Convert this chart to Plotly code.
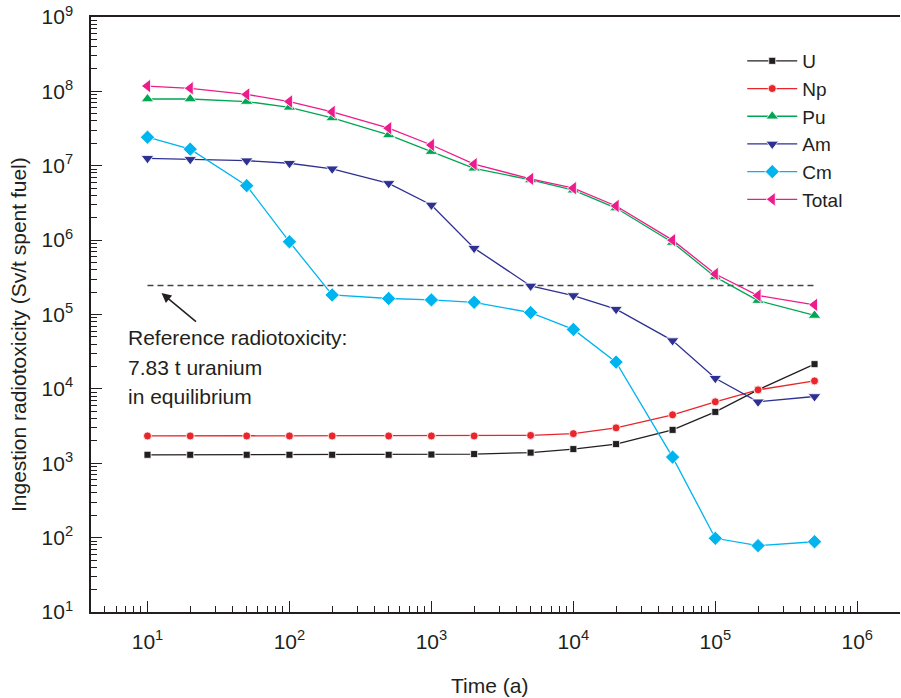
import plotly.graph_objects as go

time_a = [10, 20, 50, 100, 200, 500, 1000, 2000, 5000, 1e4, 2e4, 5e4, 1e5, 2e5, 5e5]

u_vals = [1.3e3, 1.3e3, 1.3e3, 1.3e3, 1.3e3, 1.3e3, 1.31e3, 1.33e3, 1.39e3, 1.55e3, 1.81e3, 2.81e3, 4.9e3, 9.7e3, 2.15e4]
np_vals = [2.33e3, 2.33e3, 2.33e3, 2.33e3, 2.33e3, 2.33e3, 2.33e3, 2.33e3, 2.37e3, 2.5e3, 2.99e3, 4.48e3, 6.7e3, 9.7e3, 1.28e4]
pu_vals = [7.9e7, 7.9e7, 7.3e7, 6.1e7, 4.4e7, 2.6e7, 1.55e7, 9.25e6, 6.45e6, 4.7e6, 2.7e6, 9.3e5, 3.2e5, 1.54e5, 9.7e4]
am_vals = [1.26e7, 1.22e7, 1.17e7, 1.08e7, 9.1e6, 5.8e6, 2.97e6, 7.8e5, 2.42e5, 1.8e5, 1.18e5, 4.46e4, 1.39e4, 6.7e3, 7.9e3]
cm_vals = [2.42e7, 1.67e7, 5.4e6, 9.5e5, 1.83e5, 1.64e5, 1.57e5, 1.46e5, 1.06e5, 6.3e4, 2.29e4, 1.21e3, 98, 78, 88]
total_vals = [1.18e8, 1.1e8, 9.1e7, 7.3e7, 5.3e7, 3.2e7, 1.9e7, 1.05e7, 6.65e6, 5.0e6, 2.88e6, 1.0e6, 3.5e5, 1.8e5, 1.35e5]

ref_x = [10, 5e5]
ref_val = 2.45e5

x_tickvals = [10, 100, 1e3, 1e4, 1e5, 1e6]
x_ticktext = ["10<sup>1</sup>", "10<sup>2</sup>", "10<sup>3</sup>", "10<sup>4</sup>", "10<sup>5</sup>", "10<sup>6</sup>"]
y_tickvals = [1e1, 1e2, 1e3, 1e4, 1e5, 1e6, 1e7, 1e8, 1e9]
y_ticktext = ["10<sup>%d</sup>" % i for i in range(1, 10)]

ref_text = ["Reference radiotoxicity:", "7.83 t uranium", "in equilibrium"]
x_title = "Time (a)"
y_title = "Ingestion radiotoxicity (Sv/t spent fuel)"

FONT = "Liberation Sans, Arial, sans-serif"
TXT = "#231f20"
FS = 21

series = [
    ("U", u_vals, "#231f20", "square", 7),
    ("Np", np_vals, "#e8262b", "circle", 8),
    ("Pu", pu_vals, "#00a651", "triangle-up", 11),
    ("Am", am_vals, "#2e3192", "triangle-down", 11),
    ("Cm", cm_vals, "#00b4ef", "diamond", 11),
    ("Total", total_vals, "#ec1c8c", "triangle-left", 12),
]

fig = go.Figure()
fig.add_trace(go.Scatter(
    x=ref_x, y=[ref_val, ref_val], mode="lines",
    line=dict(color="#444444", width=1.4, dash="6px,4px"),
    showlegend=False, hoverinfo="skip"))

for name, vals, col, sym, sz in series:
    fig.add_trace(go.Scatter(
        x=time_a, y=vals, mode="lines+markers", name=name,
        line=dict(color=col, width=1.3),
        marker=dict(symbol=sym, size=sz, color=col, line=dict(color="white", width=0.8)),
    ))

ann = []
line_y = [4.686, 4.282, 3.892]
for t, yy in zip(ref_text, line_y):
    ann.append(dict(x=0.852, y=yy, xref="x", yref="y", text=t, showarrow=False,
                    xanchor="left", yanchor="middle",
                    font=dict(family=FONT, size=FS, color=TXT)))
ann.append(dict(x=1.0986, y=5.29, xref="x", yref="y", text="", showarrow=True,
                ax=36, ay=30, arrowhead=2, arrowsize=1.3, arrowwidth=1.5, arrowcolor="#231f20"))
ann.append(dict(x=0.492, y=-0.1227, xref="paper", yref="paper", text=x_title, showarrow=False,
                xanchor="center", yanchor="middle", font=dict(family=FONT, size=FS, color=TXT)))
ann.append(dict(x=-0.0902, y=0.4655, xref="paper", yref="paper", text=y_title, showarrow=False,
                textangle=-90, xanchor="center", yanchor="middle",
                font=dict(family=FONT, size=FS, color=TXT)))

axis_common = dict(
    type="log", showgrid=False, zeroline=False, automargin=False,
    showline=True, linecolor="#231f20", linewidth=1.5,
    ticks="inside", ticklen=11, tickwidth=1.3, tickcolor="#231f20",
    tickfont=dict(family=FONT, size=FS, color=TXT),
    minor=dict(ticks="inside", ticklen=6, tickwidth=1.3, tickcolor="#231f20", dtick="D1", showgrid=False),
)

fig.update_layout(
    width=901, height=698,
    margin=dict(l=91, r=1, t=17, b=86),
    paper_bgcolor="white", plot_bgcolor="white",
    font=dict(family=FONT, size=FS, color=TXT),
    xaxis=dict(axis_common, range=[0.60206, 6.30103], tickvals=x_tickvals, ticktext=x_ticktext,
               mirror=True, ticklabelstandoff=10),
    yaxis=dict(axis_common, range=[1, 9], tickvals=y_tickvals, ticktext=y_ticktext,
               ticklabelstandoff=12),
    legend=dict(x=0.805, y=0.958, xanchor="left", yanchor="top", bgcolor="rgba(0,0,0,0)",
                font=dict(family=FONT, size=19, color=TXT), itemwidth=50, tracegroupgap=0),
    annotations=ann,
)

fig.write_html("out.html", config={"displayModeBar": False},
               post_script="document.body.style.margin='0px';document.body.style.overflow='hidden';")
